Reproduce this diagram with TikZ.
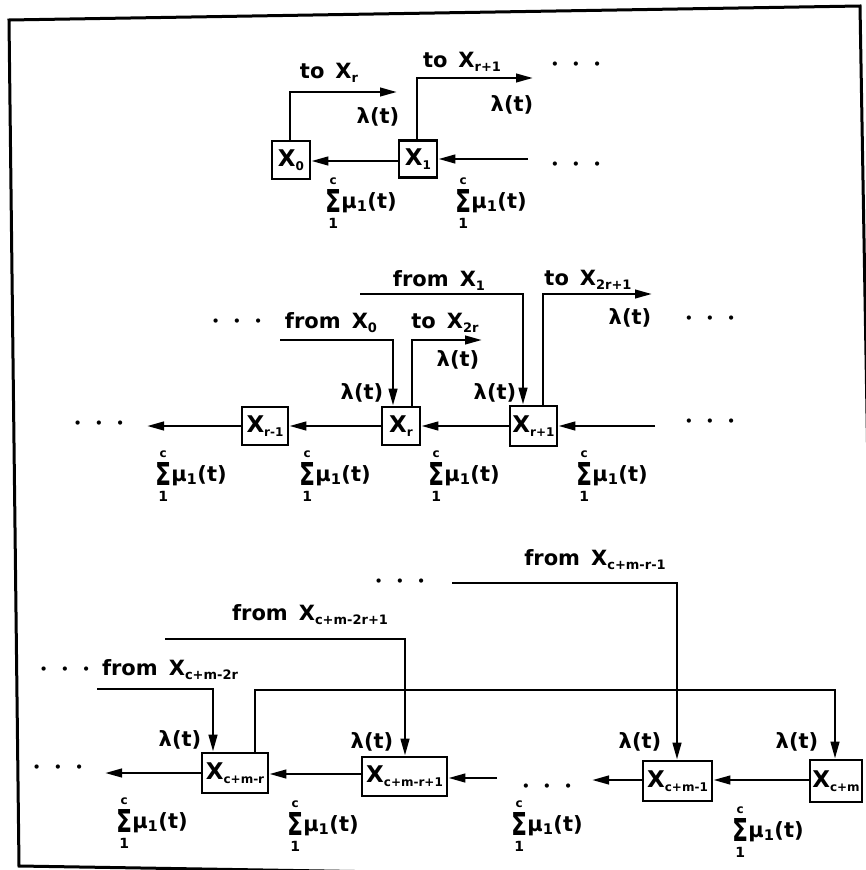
\documentclass[tikz,border=0pt]{standalone}
\usepackage{graphicx}
\usepackage{fontspec}
\setmainfont{DejaVu Sans}
\usetikzlibrary{arrows.meta}
\newcommand\sbx[1]{\raisebox{-4pt}{\fontsize{12}{12}\selectfont\bfseries #1}}
\newcommand\sbl[1]{\raisebox{-4pt}{\fontsize{13}{13}\selectfont\bfseries #1}}
\newcommand\sigstack{$\vcenter{\offinterlineskip\halign{\hfil##\hfil\cr
  \fontsize{12}{12}\selectfont c\cr\noalign{\kern5pt}
  \resizebox{16pt}{23pt}{\bfseries Σ}\cr\noalign{\kern5pt}
  \fontsize{14}{14}\selectfont 1\cr}}$}
\newcommand\musum{\sigstack μ\textsubscript{1}(t)}
\newcommand\dotrow{{\fontsize{12}{12}\selectfont •\hspace{13.5pt}•\hspace{13.5pt}•}}
\newcommand\gp{\hspace{11pt}}
\begin{document}
\begin{tikzpicture}[x=1pt,y=-1pt,
  lbl/.style={font=\fontsize{21}{25}\selectfont\bfseries, inner sep=0pt},
  box/.style={draw, line width=2.6pt, inner sep=0pt, font=\fontsize{23}{26}\selectfont\bfseries},
  ln/.style={line width=2.6pt},
  arr/.style={ln, -{Triangle[length=17pt,width=8.5pt]}}]
\useasboundingbox (0,0) rectangle (866,870);
\begin{scope}
\clip (0,0) rectangle (866,870);
\draw[line width=3pt, line join=miter] (9,20) -- (860,6) -- (875,880) -- (19,866) -- cycle;
\end{scope}

% ---------- top row ----------
\node[box, minimum width=38pt, minimum height=38pt] (x0) at (291,160) {X\sbx{0}};
\node[box, minimum width=38pt, minimum height=37pt] (x1) at (418,159) {X\sbx{1}};
\coordinate (a0) at (397,92);
\coordinate (a1) at (533,78);
\coordinate (a2) at (528,159);
\draw[arr] (x0.north -| 290,0) -- (290,92) -- (a0);
\draw[arr] (x1.north -| 417,0) -- (417,78) -- (a1);
\draw[arr] (a2) -- (x1.east |- a2);
\draw[arr] (x1.west |- 0,161) -- (x0.east |- 0,161);
\node[lbl] (t1) at (329,73) {to\gp X\sbl{r}};
\node[lbl] (t2) at (378,117) {λ(t)};
\node[lbl] (t3) at (462,62) {to\gp X\sbl{r+1}};
\node[lbl] (t4) at (512,105) {λ(t)};
\node[lbl] (d1) at (576,65) {\dotrow};
\node[lbl] (d2) at (576,165) {\dotrow};
\node[lbl] (s1) at (361,203) {\musum};
\node[lbl] (s2) at (491,203) {\musum};

% ---------- middle row ----------
\node[box, minimum width=46pt, minimum height=38pt] (xrm) at (265,426) {X\sbx{r-1}};
\node[box, minimum width=38pt, minimum height=38pt] (xr) at (401,426) {X\sbx{r}};
\node[box, minimum width=47pt, minimum height=40pt] (xr1) at (533.5,426) {X\sbx{r+1}};
\coordinate (b0) at (280,340);
\coordinate (b1) at (482,340);
\coordinate (b2) at (360,294);
\coordinate (b3) at (652,294);
\coordinate (b4) at (655,426);
\coordinate (b5) at (147,426);
\draw[arr] (b0) -- (393,340) -- (xr.north -| 393,0);
\draw[arr] (xr.north -| 412,0) -- (412,340) -- (b1);
\draw[arr] (b2) -- (523,294) -- (xr1.north -| 523,0);
\draw[arr] (xr1.north -| 543,0) -- (543,294) -- (b3);
\draw[arr] (b4) -- (xr1.east |- b4);
\draw[arr] (xr1.west |- 0,426) -- (xr.east |- 0,426);
\draw[arr] (xr.west |- 0,426) -- (xrm.east |- 0,426);
\draw[arr] (xrm.west |- b5) -- (b5);
\node[lbl] (d3) at (237,322) {\dotrow};
\node[lbl] (m1) at (331,323) {from\gp X\sbl{0}};
\node[lbl] (m2) at (445,323) {to\gp X\sbl{2r}};
\node[lbl] (m3) at (458,360) {λ(t)};
\node[lbl] (m4) at (439,281) {from\gp X\sbl{1}};
\node[lbl] (m5) at (588,280) {to\gp X\sbl{2r+1}};
\node[lbl] (m6) at (630,318) {λ(t)};
\node[lbl] (d4) at (710,319) {\dotrow};
\node[lbl] (m7) at (362,393) {λ(t)};
\node[lbl] (m8) at (495,393) {λ(t)};
\node[lbl] (d5) at (99,424) {\dotrow};
\node[lbl] (d6) at (710,422) {\dotrow};
\node[lbl] (s3) at (191,476) {\musum};
\node[lbl] (s4) at (335,476) {\musum};
\node[lbl] (s5) at (464,476) {\musum};
\node[lbl] (s6) at (612,476) {\musum};

% ---------- bottom row ----------
\node[box, minimum width=66pt, minimum height=40pt] (xcmr) at (235,773) {X\sbx{c+m-r}};
\node[box, minimum width=85pt, minimum height=39pt] (xcmr1) at (404.5,776.5) {X\sbx{c+m-r+1}};
\node[box, minimum width=69pt, minimum height=40pt] (xcm1) at (677.5,781) {X\sbx{c+m-1}};
\node[box, minimum width=52pt, minimum height=42pt] (xcm) at (836,781) {X\sbx{c+m}};
\coordinate (c0) at (452,583);
\coordinate (c1) at (165,639);
\coordinate (c2) at (97,689);
\coordinate (c3) at (592,780);
\coordinate (c4) at (497,778);
\coordinate (c5) at (105,773);
\draw[arr] (c0) -- (677,583) -- (xcm1.north -| 677,0);
\draw[arr] (c1) -- (405,639) -- (xcmr1.north -| 405,0);
\draw[arr] (c2) -- (213,689) -- (xcmr.north -| 213,0);
\draw[arr] (xcmr.north -| 255,0) -- (255,690) -- (835,690) -- (xcm.north -| 835,0);
\draw[arr] (xcm.west |- 0,780) -- (xcm1.east |- 0,780);
\draw[arr] (xcm1.west |- c3) -- (c3);
\draw[arr] (c4) -- (xcmr1.east |- c4);
\draw[arr] (xcmr1.west |- 0,774) -- (xcmr.east |- 0,774);
\draw[arr] (xcmr.west |- c5) -- (c5);
\node[lbl] (d7) at (400,582) {\dotrow};
\node[lbl] (n1) at (595,560) {from\gp X\sbl{c+m-r-1}};
\node[lbl] (n2) at (310,615) {from\gp X\sbl{c+m-2r+1}};
\node[lbl] (d8) at (65,670) {\dotrow};
\node[lbl] (n3) at (170,670) {from\gp X\sbl{c+m-2r}};
\node[lbl] (n4) at (180,740) {λ(t)};
\node[lbl] (n5) at (372,742) {λ(t)};
\node[lbl] (n6) at (640,742) {λ(t)};
\node[lbl] (n7) at (797,742) {λ(t)};
\node[lbl] (d9) at (58,768) {\dotrow};
\node[lbl] (d10) at (547,787) {\dotrow};
\node[lbl] (s7) at (152,823) {\musum};
\node[lbl] (s8) at (323,826) {\musum};
\node[lbl] (s9) at (547,826) {\musum};
\node[lbl] (s10) at (768,832) {\musum};
\end{tikzpicture}
\end{document}
